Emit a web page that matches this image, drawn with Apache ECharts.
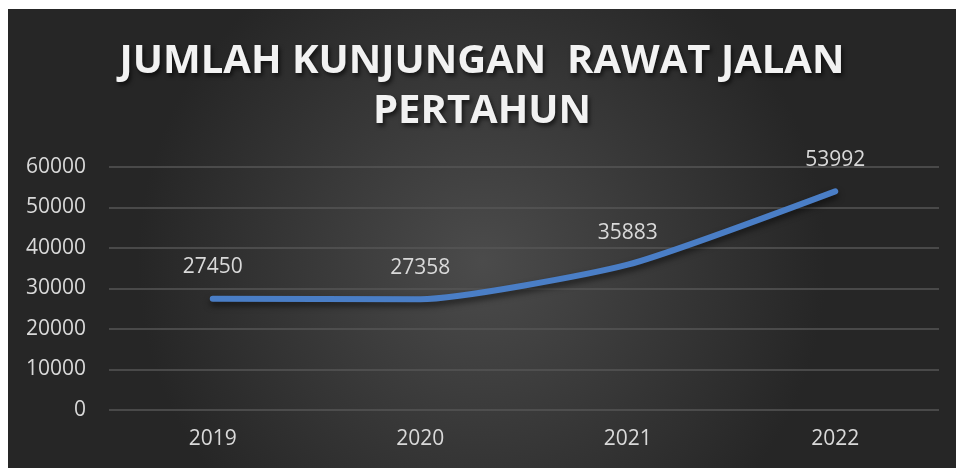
<!DOCTYPE html>
<html>
<head>
    <meta charset="utf-8">
    <title>Jumlah Kunjungan Rawat Jalan</title>
    <script src="https://cdn.jsdelivr.net/npm/echarts@6/dist/echarts.min.js"></script>
    <style>
        html, body { margin: 0; padding: 0; background: #fff; }
        #chart1 { position: absolute; left: 8px; top: 9px; width: 948px; height: 459px; }
    </style>
</head>
<body>
<div id="chart1"></div>
<script type="text/javascript">
    // data
    var years = ['2019', '2020', '2021', '2022'];
    var kunjungan = [27450, 27358, 35883, 53992];
    var yTicks = [0, 10000, 20000, 30000, 40000, 50000, 60000];

    var myChart1 = echarts.init(document.getElementById('chart1'));
    myChart1.setOption({
        backgroundColor: {
            type: 'radial', x: 0.5, y: 0.55, r: 0.75,
            colorStops: [
                {offset: 0, color: '#4b4b4b'},
                {offset: 1, color: '#262626'}
            ]
        },
        title: {
            text: 'JUMLAH KUNJUNGAN  RAWAT JALAN\nPERTAHUN',
            left: 'center',
            top: 23,
            textStyle: {
                fontFamily: 'Open Sans',
                fontWeight: 'bold',
                fontSize: 40,
                lineHeight: 50,
                color: '#f2f2f2',
                textShadowColor: 'rgba(0,0,0,0.6)',
                textShadowBlur: 4,
                textShadowOffsetX: 2,
                textShadowOffsetY: 3
            }
        },
        grid: {left: 101, right: 17, top: 158, bottom: 58},
        xAxis: {
            type: 'category',
            data: years,
            boundaryGap: true,
            axisLine: {show: false},
            axisTick: {show: false},
            axisLabel: {color: '#d9d9d9', fontSize: 21, fontFamily: 'Open Sans', margin: 19}
        },
        yAxis: {
            type: 'value',
            min: yTicks[0],
            max: yTicks[yTicks.length - 1],
            interval: 10000,
            axisLine: {show: false},
            axisTick: {show: false},
            axisLabel: {
                color: '#d9d9d9', fontSize: 21, fontFamily: 'Open Sans', margin: 23,
                formatter: function (v) { return String(v); }
            },
            splitLine: {lineStyle: {color: '#565656', width: 1.5}}
        },
        series: [{
            name: 'Kunjungan',
            type: 'line',
            data: kunjungan,
            smooth: 0.18,
            symbol: 'circle',
            symbolSize: 2,
            itemStyle: {color: '#4a7ec6', opacity: 0},
            lineStyle: {
                color: '#4a7ec6',
                width: 6,
                cap: 'round',
                shadowColor: 'rgba(0,0,0,0.55)',
                shadowBlur: 6,
                shadowOffsetY: 4
            },
            label: {
                show: true,
                position: 'top',
                distance: 20,
                color: '#d9d9d9',
                fontSize: 21,
                fontFamily: 'Open Sans',
                opacity: 1
            }
        }]
    });
</script>
</body>
</html>
